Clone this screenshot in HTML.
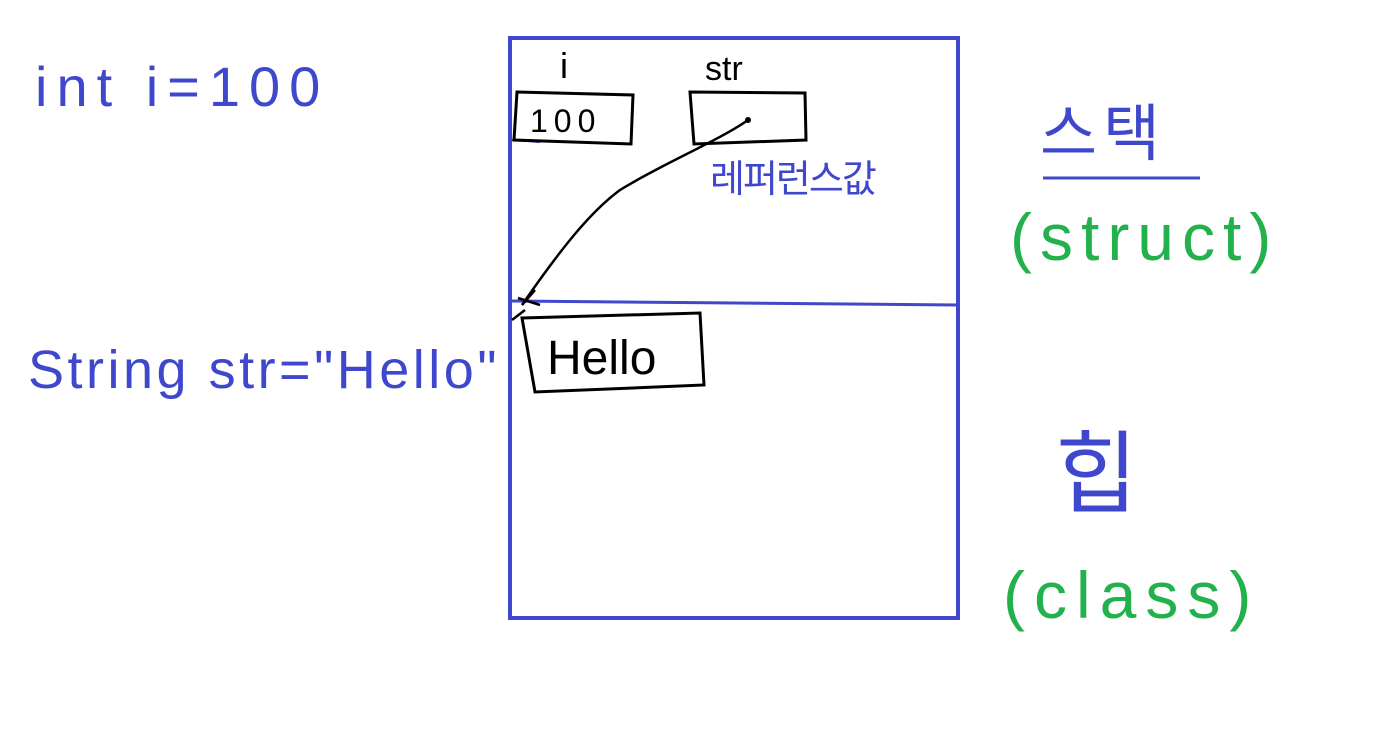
<!DOCTYPE html>
<html><head><meta charset="utf-8"><style>
html,body{margin:0;padding:0;background:#fff;width:1374px;height:740px;overflow:hidden}
svg{display:block}
text{font-family:"Liberation Sans","Noto Sans CJK KR",sans-serif}
</style></head><body>
<svg width="1374" height="740" viewBox="0 0 1374 740" xmlns="http://www.w3.org/2000/svg">
<rect x="510" y="38" width="448" height="580" fill="none" stroke="#3f48cc" stroke-width="4"/>
<path d="M512 301 L958 305" stroke="#3f48cc" stroke-width="3" fill="none"/>
<path d="M512 140 L540 142" stroke="#3f48cc" stroke-width="2" fill="none"/>
<text x="35" y="106" font-size="56" fill="#3f48cc" letter-spacing="9">int i=100</text>
<text x="28" y="388" font-size="54" fill="#3f48cc" letter-spacing="3.5">String str="Hello"</text>
<text x="560" y="78" font-size="36" fill="#000">i</text>
<text x="705" y="80" font-size="34" fill="#000">str</text>
<path d="M517 92 L633 95 L631 144 L514 140 Z" fill="none" stroke="#000" stroke-width="3"/>
<text x="530" y="132" font-size="32" fill="#000" letter-spacing="6">100</text>
<path d="M690 92 L805 93 L806 140 L694 144 Z" fill="none" stroke="#000" stroke-width="3"/>
<circle cx="748" cy="120" r="3" fill="#000"/>
<path d="M748 120 C720 140 660 165 620 190 C590 212 560 250 522 305" fill="none" stroke="#000" stroke-width="2.5"/>
<path d="M518 298 L540 305 M522 305 L535 290 M512 320 L525 310" stroke="#000" stroke-width="2.5" fill="none"/>
<text x="710" y="192" font-size="38" fill="#3f48cc" letter-spacing="-2">레퍼런스값</text>
<path d="M522 318 L700 313 L704 385 L535 392 Z" fill="none" stroke="#000" stroke-width="3"/>
<text x="547" y="374" font-size="48" fill="#000">Hello</text>
<text x="1040" y="155" font-size="62" fill="#3f48cc" letter-spacing="6">스택</text>
<path d="M1043 178 L1200 178" stroke="#3f48cc" stroke-width="3"/>
<text x="1010" y="260" font-size="66" fill="#22b14c" letter-spacing="8">(struct)</text>
<text x="1055" y="505" font-size="90" fill="#3f48cc">힙</text>
<text x="1003" y="618" font-size="66" fill="#22b14c" letter-spacing="9">(class)</text>
</svg>
</body></html>
